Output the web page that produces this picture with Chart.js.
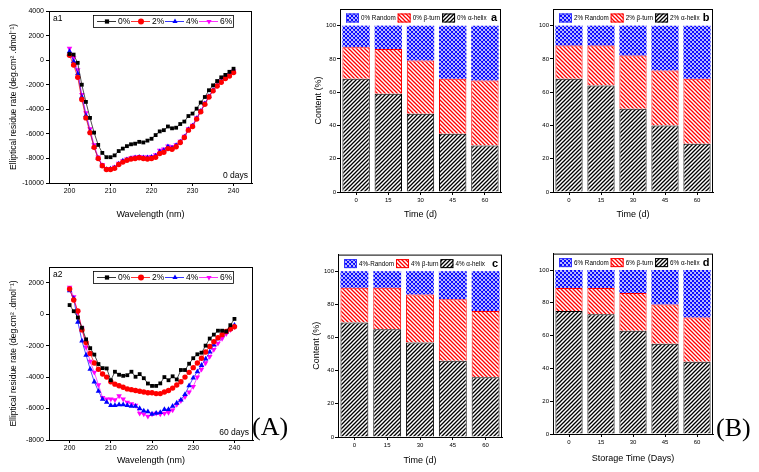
<!DOCTYPE html>
<html>
<head>
<meta charset="utf-8">
<script src="https://cdn.jsdelivr.net/npm/chart.js@4.4.1/dist/chart.umd.min.js"></script>
<style>
  body { margin: 0; background: #fff; width: 759px; height: 472px; overflow: hidden; position: relative; }
  .caja { position: absolute; }
  .letra { position: absolute; font-family: "Liberation Serif", serif; font-size: 26px; color: #000; line-height: 1; }
</style>
</head>
<body>
<div class="caja" style="left:0px;top:0px;width:262px;height:220px"><canvas id="a1"></canvas></div>
<div class="caja" style="left:0px;top:256px;width:262px;height:210px"><canvas id="a2"></canvas></div>
<div class="caja" style="left:300px;top:0px;width:210px;height:220px"><canvas id="ba"></canvas></div>
<div class="caja" style="left:537px;top:0px;width:185px;height:220px"><canvas id="bb"></canvas></div>
<div class="caja" style="left:300px;top:250px;width:210px;height:216px"><canvas id="bc"></canvas></div>
<div class="caja" style="left:537px;top:249px;width:185px;height:215px"><canvas id="bd"></canvas></div>
<div class="letra" style="left:252px;top:414px">(A)</div>
<div class="letra" style="left:716px;top:415px">(B)</div>

<script>
// longitudes de onda (nm)
var longitudOnda = [200, 201, 202, 203, 204, 205, 206, 207, 208, 209, 210,
  211, 212, 213, 214, 215, 216, 217, 218, 219, 220,
  221, 222, 223, 224, 225, 226, 227, 228, 229, 230,
  231, 232, 233, 234, 235, 236, 237, 238, 239, 240];

// 0 dias
var dia0_0 = [500, 450, -220, -2000, -3400, -4700, -5900, -6900, -7550, -7900, -7900,
  -7750, -7400, -7200, -7000, -6850, -6800, -6650, -6700, -6550, -6400,
  -6100, -5800, -5700, -5400, -5550, -5500, -5200, -5000, -4550, -4350,
  -3950, -3450, -3000, -2450, -2050, -1700, -1400, -1200, -950, -700];
var dia0_2 = [400, -400, -1400, -3200, -4700, -5900, -7100, -8000, -8600, -8900, -8900,
  -8800, -8500, -8300, -8150, -8050, -8000, -7950, -8000, -8050, -8000,
  -7900, -7600, -7500, -7200, -7250, -7050, -6700, -6300, -5700, -5400,
  -4800, -4200, -3600, -3000, -2500, -2100, -1800, -1500, -1300, -1000];
var dia0_4 = [700, -100, -1100, -3000, -4500, -5800, -7100, -8000, -8600, -8900, -8850,
  -8750, -8450, -8200, -8100, -8000, -7950, -7900, -7950, -7950, -7900,
  -7800, -7450, -7350, -7050, -7150, -6950, -6650, -6250, -5650, -5350,
  -4750, -4150, -3550, -2950, -2450, -2050, -1750, -1450, -1250, -950];
var dia0_6 = [950, 200, -800, -2800, -4300, -5600, -6900, -7900, -8500, -8850, -8850,
  -8700, -8400, -8200, -8050, -7950, -7900, -7850, -7900, -7900, -7850,
  -7700, -7350, -7250, -7000, -7050, -6900, -6600, -6200, -5600, -5300,
  -4700, -4100, -3500, -2950, -2450, -2050, -1700, -1400, -1200, -900];

// 60 dias
var dia60_0 = [580, 190, -210, -860, -1600, -2160, -2570, -3170, -3430, -3450, -4200,
  -3660, -3850, -3920, -3880, -3660, -3980, -3810, -4070, -4410, -4560,
  -4560, -4400, -4000, -4200, -3950, -4150, -3550, -3550, -3150, -2800,
  -2550, -2450, -2000, -1550, -1300, -1050, -1050, -1100, -700, -300];
var dia60_2 = [1600, 900, 200, -1000, -1800, -2500, -3100, -3500, -3800, -4000, -4300,
  -4450, -4550, -4650, -4750, -4800, -4850, -4900, -4950, -5000, -5000,
  -5050, -5050, -4950, -4850, -4700, -4500, -4300, -4000, -3700, -3400,
  -3100, -2800, -2400, -2050, -1750, -1500, -1300, -1100, -950, -800];
var dia60_4 = [1500, 1000, -500, -1700, -2600, -3500, -4300, -4900, -5400, -5600, -5800,
  -5800, -5750, -5750, -5800, -5850, -5850, -6000, -6150, -6200, -6350,
  -6300, -6250, -6050, -6050, -5850, -5650, -5450, -5100, -4550, -4050,
  -3650, -3250, -2850, -2400, -1950, -1550, -1350, -1150, -950, -700];
var dia60_6 = [1700, 1100, 100, -900, -2100, -3000, -3700, -4500, -5300, -5400, -5400,
  -5450, -5200, -5400, -5600, -5700, -5800, -6300, -6350, -6500, -6350,
  -6300, -6350, -6300, -6250, -6100, -5750, -5500, -5250, -4950, -4600,
  -4000, -3500, -3100, -2700, -2250, -1850, -1550, -1250, -1000, -800];

var ticksLongitud = [200, 210, 220, 230, 240];
var ticksDia0 = [-10000, -8000, -6000, -4000, -2000, 0, 2000, 4000];
var ticksDia60 = [-8000, -6000, -4000, -2000, 0, 2000];

// estructura secundaria (%)
var tiempos = ['0', '15', '30', '45', '60'];
var ticksContenido = [0, 20, 40, 60, 80, 100];

var helice0 = [68, 59, 47, 35, 28];
var giro0 = [19, 27, 32, 33, 39];
var aleatorio0 = [13, 14, 21, 32, 33];

var helice2 = [68, 64, 50, 40, 29];
var giro2 = [20, 24, 32, 33, 39];
var aleatorio2 = [12, 12, 18, 27, 32];

var helice4 = [69, 65, 57, 46, 36];
var giro4 = [21, 25, 29, 37, 40];
var aleatorio4 = [10, 10, 14, 17, 24];

var helice6 = [75, 73, 63, 55, 44];
var giro6 = [14, 16, 23, 24, 27];
var aleatorio6 = [11, 11, 14, 21, 29];

Chart.defaults.font.family = '"Liberation Sans", Arial, sans-serif';
Chart.defaults.color = '#000';

// patrones de relleno
function crearPatron(color, tipo) {
  var s = 4;
  var c = document.createElement('canvas');
  c.width = s; c.height = s;
  var g = c.getContext('2d');
  g.fillStyle = '#fff';
  g.fillRect(0, 0, s, s);
  g.strokeStyle = color;
  g.lineWidth = tipo == 'x' ? 1.1 : 1.3;
  g.beginPath();
  if (tipo == '/' || tipo == 'x') {
    g.moveTo(-1, s + 1); g.lineTo(s + 1, -1);
    g.moveTo(-1, 1); g.lineTo(1, -1);
    g.moveTo(s - 1, s + 1); g.lineTo(s + 1, s - 1);
  }
  if (tipo == '\\' || tipo == 'x') {
    g.moveTo(-1, -1); g.lineTo(s + 1, s + 1);
    g.moveTo(s - 1, -1); g.lineTo(s + 1, 1);
    g.moveTo(-1, s - 1); g.lineTo(1, s + 1);
  }
  g.stroke();
  return g.createPattern(c, 'repeat');
}

var patronNegro = crearPatron('#000', '/');
var patronRojo = crearPatron('#ff0000', '\\');
var patronAzul = crearPatron('#0000ff', 'x');

// marco, leyenda interna y rotulos
var pluginPanel = {
  id: 'panel',
  afterDraw: function(chart, args, opts) {
    var ctx = chart.ctx, a = chart.chartArea;
    ctx.save();
    ctx.strokeStyle = '#000';
    ctx.lineWidth = 1;
    ctx.strokeRect(a.left + 0.5, a.top + 0.5, a.right - a.left - 1, a.bottom - a.top);

    var ds = chart.data.datasets;
    if (opts.tipo == 'linea') {
      var bx = a.left + 44, by = a.top + 4;
      ctx.fillStyle = '#fff';
      ctx.fillRect(bx, by, 140, 12);
      ctx.lineWidth = 0.8;
      ctx.strokeRect(bx + 0.5, by + 0.5, 140, 12);
      ctx.font = '8.5px "Liberation Sans", Arial, sans-serif';
      ctx.textBaseline = 'middle';
      for (var i = 0; i < ds.length; i++) {
        var mx = bx + 14 + i * 34, my = by + 6.5;
        ctx.strokeStyle = ds[i].borderColor;
        ctx.beginPath();
        ctx.moveTo(mx - 10, my); ctx.lineTo(mx + 9, my);
        ctx.stroke();
        ctx.fillStyle = ds[i].backgroundColor;
        Chart.helpers.drawPoint(ctx, { pointStyle: ds[i].pointStyle, rotation: ds[i].pointRotation || 0, radius: 3, borderWidth: 0 }, mx, my);
        ctx.fillStyle = '#000';
        ctx.fillText(ds[i].label, mx + 11, my + 0.5);
      }
      ctx.font = '8.5px "Liberation Sans", Arial, sans-serif';
      ctx.textAlign = 'left';
      ctx.fillText(opts.etiqueta, a.left + 4, a.top + 8);
      ctx.textAlign = 'right';
      ctx.fillText(opts.nota, a.right - 4, a.bottom - 7);
    } else {
      var x = a.left + 6, y = a.top + 9;
      ctx.font = '6.3px "Liberation Sans", Arial, sans-serif';
      ctx.textBaseline = 'middle';
      ctx.textAlign = 'left';
      for (var j = ds.length - 1; j >= 0; j--) {
        ctx.fillStyle = ds[j].backgroundColor;
        ctx.fillRect(x, y - 4.5, 13, 9);
        ctx.strokeStyle = ds[j].leyendaBorde;
        ctx.lineWidth = 1;
        ctx.strokeRect(x + 0.5, y - 4, 12, 8);
        ctx.fillStyle = '#000';
        ctx.fillText(ds[j].label, x + 15, y + 0.5);
        x += 15 + ctx.measureText(ds[j].label).width + 2;
      }
      ctx.font = 'bold 11px "Liberation Sans", Arial, sans-serif';
      ctx.textAlign = 'center';
      ctx.fillText(opts.etiqueta, a.right - 7, y);
    }
    ctx.restore();
  }
};

function listaTicks(valores) {
  return function(scale) {
    scale.ticks = valores.map(function(v) { return { value: v }; });
  };
}

function sinComas(v) {
  return String(v);
}

function graficoLinea(id, series, etiqueta, nota, ymin, ymax, yticks, pad, altoX) {
  var estilos = [
    { label: '0%', color: '#000000', punto: 'rect', rot: 0, r: 2.7 },
    { label: '2%', color: '#ff0000', punto: 'circle', rot: 0, r: 2.7 },
    { label: '4%', color: '#0000ff', punto: 'triangle', rot: 0, r: 3.2 },
    { label: '6%', color: '#ff00ff', punto: 'triangle', rot: 180, r: 3.2 }
  ];
  var datasets = series.map(function(valores, i) {
    return {
      label: estilos[i].label,
      data: longitudOnda.map(function(x, k) { return { x: x, y: valores[k] }; }),
      borderColor: estilos[i].color,
      backgroundColor: estilos[i].color,
      borderWidth: 0.7,
      pointStyle: estilos[i].punto,
      pointRotation: estilos[i].rot,
      pointRadius: estilos[i].r,
      pointBorderWidth: 0
    };
  });

  new Chart(document.getElementById(id), {
    type: 'line',
    data: { datasets: datasets },
    options: {
      responsive: true,
      maintainAspectRatio: false,
      animation: false,
      layout: { padding: pad },
      plugins: {
        legend: { display: false },
        tooltip: { enabled: false },
        panel: { tipo: 'linea', etiqueta: etiqueta, nota: nota }
      },
      scales: {
        x: {
          type: 'linear', min: 195, max: 244.5,
          afterBuildTicks: listaTicks(ticksLongitud),
          afterFit: function(s) { s.height = altoX; },
          grid: { drawOnChartArea: false, tickLength: 3, color: '#000' },
          border: { color: '#000' },
          ticks: { font: { size: 7 }, padding: 1, maxRotation: 0, callback: sinComas },
          title: { display: true, text: 'Wavelength (nm)', font: { size: 9 }, padding: 0 }
        },
        y: {
          min: ymin, max: ymax,
          afterBuildTicks: listaTicks(yticks),
          afterFit: function(s) { s.width = 40; },
          grid: { drawOnChartArea: false, tickLength: 3, color: '#000' },
          border: { color: '#000' },
          ticks: { font: { size: 7 }, padding: 2, callback: sinComas },
          title: { display: true, text: 'Elliptical residue rate (deg.cm\u00B2 .dmol\u207B\u00B9)', font: { size: 8.5 }, padding: 0 }
        }
      }
    },
    plugins: [pluginPanel]
  });
}

function graficoBarras(id, conc, helice, giro, aleatorio, etiqueta, tituloX, tituloY, pad, anchoY, altoX) {
  var nombreAleatorio = conc == '4%' ? '4%-Random' : conc + ' Random';
  new Chart(document.getElementById(id), {
    type: 'bar',
    data: {
      labels: tiempos,
      datasets: [
        { label: conc + ' \u03B1-helix', data: helice, backgroundColor: patronNegro, borderColor: '#000', borderWidth: 1, leyendaBorde: '#000' },
        { label: conc + ' \u03B2-turn', data: giro, backgroundColor: patronRojo, borderColor: '#ff0000', borderWidth: 1, leyendaBorde: '#ff0000' },
        { label: nombreAleatorio, data: aleatorio, backgroundColor: patronAzul, borderColor: '#3030ff', borderWidth: 0, leyendaBorde: '#3030ff' }
      ]
    },
    options: {
      responsive: true,
      maintainAspectRatio: false,
      animation: false,
      categoryPercentage: 1,
      barPercentage: 0.85,
      layout: { padding: pad },
      plugins: {
        legend: { display: false },
        tooltip: { enabled: false },
        panel: { tipo: 'barra', etiqueta: etiqueta }
      },
      scales: {
        x: {
          stacked: true,
          afterFit: function(s) { s.height = altoX; },
          grid: { drawOnChartArea: false, offset: false, tickLength: 3, color: '#000' },
          border: { color: '#000' },
          ticks: { font: { size: 6 }, padding: 2, maxRotation: 0 },
          title: { display: true, text: tituloX, font: { size: 9 }, padding: 0 }
        },
        y: {
          stacked: true, min: 0, max: 110,
          afterBuildTicks: listaTicks(ticksContenido),
          afterFit: function(s) { s.width = anchoY; },
          grid: { drawOnChartArea: false, tickLength: 3, color: '#000' },
          border: { color: '#000' },
          ticks: { font: { size: 6 }, padding: 1 },
          title: { display: tituloY != '', text: tituloY, font: { size: 9 }, padding: 0 }
        }
      }
    },
    plugins: [pluginPanel]
  });
}

graficoLinea('a1', [dia0_0, dia0_2, dia0_4, dia0_6], 'a1', '0 days', -10000, 4000, ticksDia0,
  { top: 11, right: 10, left: 9, bottom: 0 }, 37);
graficoLinea('a2', [dia60_0, dia60_2, dia60_4, dia60_6], 'a2', '60 days', -8000, 3000, ticksDia60,
  { top: 11, right: 9, left: 9, bottom: 0 }, 26);

graficoBarras('ba', '0%', helice0, giro0, aleatorio0, 'a', 'Time (d)', 'Content (%)',
  { top: 9, right: 9, left: 13, bottom: 0 }, 27, 28);
graficoBarras('bb', '2%', helice2, giro2, aleatorio2, 'b', 'Time (d)', '',
  { top: 9, right: 9, left: 0, bottom: 0 }, 16, 28);
graficoBarras('bc', '4%', helice4, giro4, aleatorio4, 'c', 'Time (d)', 'Content (%)',
  { top: 4, right: 8, left: 11, bottom: 0 }, 27, 29);
graficoBarras('bd', '6%', helice6, giro6, aleatorio6, 'd', 'Storage Time (Days)', '',
  { top: 4, right: 9, left: 0, bottom: 0 }, 16, 30);
</script>
</body>
</html>
